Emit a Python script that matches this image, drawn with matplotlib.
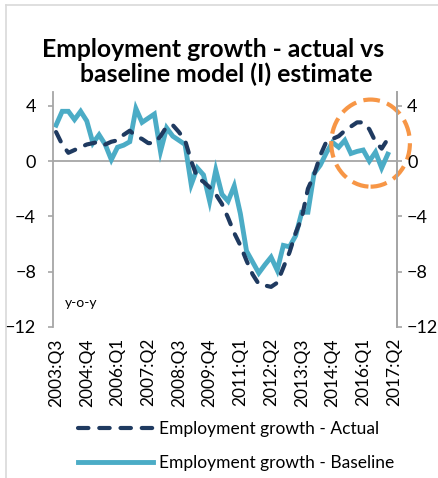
import numpy as np
import matplotlib
matplotlib.use("Agg")
import matplotlib.pyplot as plt
from matplotlib.patches import Ellipse
from matplotlib.lines import Line2D

plt.rcParams['font.family'] = ['Lato', 'DejaVu Sans']

# quarterly categories 2003:Q3 .. 2017:Q2
quarters = []
for yr in range(2003, 2018):
    for q in range(1, 5):
        if (yr, q) < (2003, 3) or (yr, q) > (2017, 2):
            continue
        quarters.append("%d:Q%d" % (yr, q))

# y-o-y employment growth, %
actual = [2.1, 1.2, 0.6, 0.8, 1.0, 1.2, 1.3, 1.4, 1.2, 1.4,
          1.5, 1.9, 2.2, 1.8, 1.6, 1.3, 1.3, 1.8, 2.5, 2.6,
          2.1, 1.5, 0.0, -1.2, -1.5, -1.9, -2.4, -3.1, -4.1, -5.2,
          -6.1, -7.2, -8.2, -8.9, -9.0, -9.1, -8.8, -7.7, -6.6, -5.2,
          -4.1, -2.0, -1.0, 0.4, 1.4, 1.6, 1.8, 2.2, 2.5, 2.8,
          2.8, 2.3, 1.4, 0.9, 1.6]
baseline = [2.6, 3.6, 3.6, 3.0, 3.6, 2.9, 1.3, 1.9, 1.2, 0.1,
            1.0, 1.15, 1.4, 3.8, 2.8, 3.1, 3.4, 0.7, 2.4, 1.8,
            1.5, 1.2, -1.7, -0.5, -1.0, -2.9, -0.65, -2.4, -2.9, -1.8,
            -3.8, -6.5, -7.3, -8.1, -7.5, -6.95, -7.9, -6.1, -6.2, -5.4,
            -3.7, -3.7, -0.9, -0.3, 0.6, 1.35, 1.0, 1.5, 0.55, 0.7,
            0.8, 0.0, 0.65, -0.5, 0.5]
yticks = [-12, -8, -4, 0, 4]

navy = '#1f3a60'
aqua = '#4bacc6'
grey = '#a6a6a6'

fig = plt.figure(figsize=(4.38, 4.78), dpi=100)
ax = fig.add_axes([0.121, 0.316, 0.7854, 0.4916])

x = np.arange(len(actual))
ax.axhline(0, color=grey, lw=1.3, zorder=1)
ax.plot(x, actual, color=navy, lw=3.0, dashes=(2.5, 2.6),
        dash_capstyle='round', zorder=3, label='Employment growth - Actual')
ax.plot(x, baseline, color=aqua, lw=3.5, solid_joinstyle='miter',
        zorder=2, label='Employment growth - Baseline')

# highlight the recent divergence
ell = Ellipse((51.2, 1.3), 12.8, 6.3, fill=False, edgecolor='#f79646',
              lw=3.0, linestyle=(0, (4, 1.8)), clip_on=False, zorder=4)
ax.add_patch(ell)

ax.set_xlim(-0.5, len(quarters) - 0.5)
ax.set_ylim(-12, 5)
ax.set_xticks(range(0, len(quarters), 5))
ax.set_xticklabels(quarters[::5], rotation=90, fontsize=12.5)
ax.tick_params(axis='x', length=0, pad=8)
ax.set_yticks(yticks)
ax.tick_params(axis='y', labelsize=13, length=3.6, width=1.2, color=grey, pad=8.6)

for s in ['top', 'bottom']:
    ax.spines[s].set_visible(False)
for s in ['left', 'right']:
    ax.spines[s].set_color(grey)
    ax.spines[s].set_linewidth(1.3)

ax2 = ax.twinx()
ax2.set_ylim(-12, 5)
ax2.set_yticks(yticks)
ax2.tick_params(axis='y', labelsize=13, length=3.6, width=1.2, color=grey, pad=3.6)
for s in ['top', 'bottom', 'left']:
    ax2.spines[s].set_visible(False)
ax2.spines['right'].set_color(grey)
ax2.spines['right'].set_linewidth(1.3)

ax.text(0.035, 0.085, 'y-o-y', transform=ax.transAxes, fontsize=10)

fig.text(0.486, 0.8808, 'Employment growth - actual vs', ha='center',
         va='baseline', fontsize=17.8, fontweight='bold')
fig.text(0.516, 0.8285, 'baseline model (I) estimate', ha='center',
         va='baseline', fontsize=17.8, fontweight='bold')

fig.legend(loc='center left', bbox_to_anchor=(78 / 438, 32 / 478),
           frameon=False, fontsize=12.5, handlelength=4.3, handletextpad=0.35,
           labelspacing=1.0, borderpad=0, borderaxespad=0)

# chart area border
fig.add_artist(Line2D([6 / 438, 6 / 438], [0, 1 - 5 / 478], color='#d9d9d9', lw=1.2))
fig.add_artist(Line2D([6 / 438, 1], [1 - 5 / 478, 1 - 5 / 478], color='#d9d9d9', lw=1.2))

fig.savefig('out.png', dpi=100)
